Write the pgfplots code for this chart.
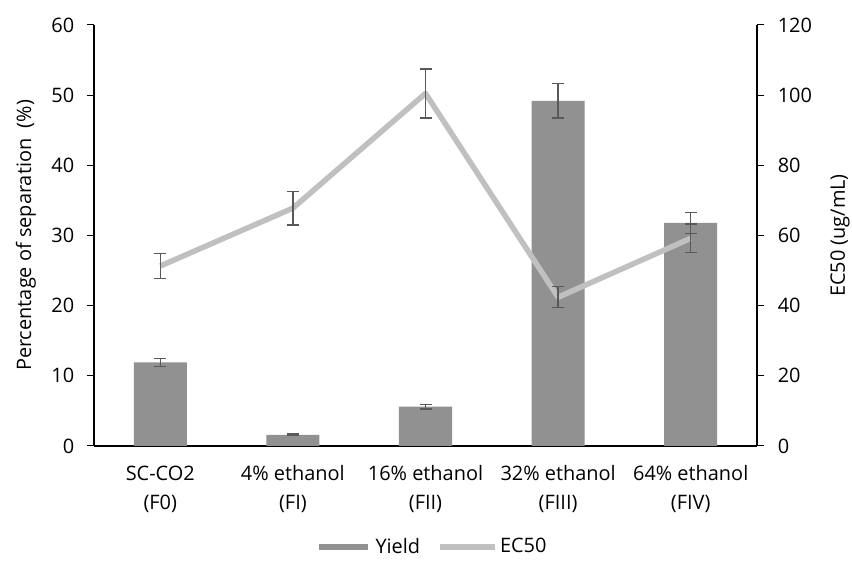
\documentclass[border=0pt]{standalone}
\usepackage{fontspec}
\setmainfont{Open Sans}
\usepackage{pgfplots}
\pgfplotsset{compat=1.18}
\definecolor{barc}{RGB}{145,145,145}
\definecolor{linec}{RGB}{192,192,192}
\definecolor{errc}{RGB}{89,89,89}
\begin{document}
\fontsize{20}{29}\selectfont
\begin{tikzpicture}
\pgfplotsset{
  common/.style={
    scale only axis, width=663bp, height=421bp,
    xmin=-0.5, xmax=4.5,
    tick align=outside, major tick length=7bp,
    tick style={black, line width=1bp},
    axis line style={black, line width=1.4bp},
    /pgf/number format/assume math mode=true,
    tick label style={font=\fontsize{20}{29}\selectfont},
    label style={font=\fontsize{20}{29}\selectfont},
    clip=false,
  }
}
\begin{axis}[common,
  ymin=0, ymax=60, ytick={0,10,...,60},
  axis x line*=bottom, axis y line*=left,
  xtick={0,1,2,3,4},
  xticklabels={{SC-CO2\\(F0)},{4\% ethanol\\(FI)},{16\% ethanol\\(FII)},{32\% ethanol\\(FIII)},{64\% ethanol\\(FIV)}},
  xticklabel style={align=center, yshift=-6bp},
  yticklabel style={xshift=-6bp},
  x tick style={draw=none},
  ylabel={Percentage of separation\ \ (\%)},
  ylabel style={at={([xshift=-68bp]rel axis cs:0,0.5)}, anchor=center, inner sep=0pt},
  legend columns=2,
  legend style={at={([xshift=8bp]rel axis cs:0.5,-0.24)}, anchor=center, draw=none, fill=none,
    font=\fontsize{20}{24}\selectfont},
]
\addplot[ybar, bar width=0.4, fill=barc, draw=none,
  legend image code/.code={\fill[barc] (0bp,-3bp) rectangle (49bp,3bp); \path (55bp,0bp);},
  error bars/.cd, y dir=both, y explicit,
  error bar style={errc, line width=1.4bp},
  error mark options={rotate=90, mark size=6bp, errc, line width=1.4bp}]
coordinates {
(0,11.9) +- (0,0.6)
(1,1.6) +- (0,0.1)
(2,5.6) +- (0,0.3)
(3,49.2) +- (0,2.45)
(4,31.8) +- (0,1.5)
};
\addlegendentry{Yield}
\addlegendimage{legend image code/.code={\path (-18bp,0bp); \draw[linec, line width=5.5bp] (0bp,0bp) -- (55bp,0bp);}}
\addlegendentry{EC50}
\path ([xshift=-94bp,yshift=-121bp]rel axis cs:0,0) rectangle ([xshift=95bp,yshift=25bp]rel axis cs:1,1);
\end{axis}
\begin{axis}[common,
  ymin=0, ymax=120, ytick={0,20,...,120},
  axis y line*=right, axis x line=none,
  yticklabel style={xshift=7bp},
  ylabel={EC50 (ug/mL)},
  ylabel style={at={([xshift=83bp]rel axis cs:1,0.5)}, anchor=center, inner sep=0pt},
]
\addplot[linec, line width=5.5bp, line join=round, mark=none,
  error bars/.cd, y dir=both, y explicit,
  error bar style={errc, line width=1.4bp},
  error mark options={rotate=90, mark size=6bp, errc, line width=1.4bp}]
coordinates {
(0,51.3) +- (0,3.5)
(1,67.8) +- (0,4.8)
(2,100.5) +- (0,7.0)
(3,42.4) +- (0,3.0)
(4,59.2) +- (0,4.1)
};
\end{axis}
\end{tikzpicture}
\end{document}
